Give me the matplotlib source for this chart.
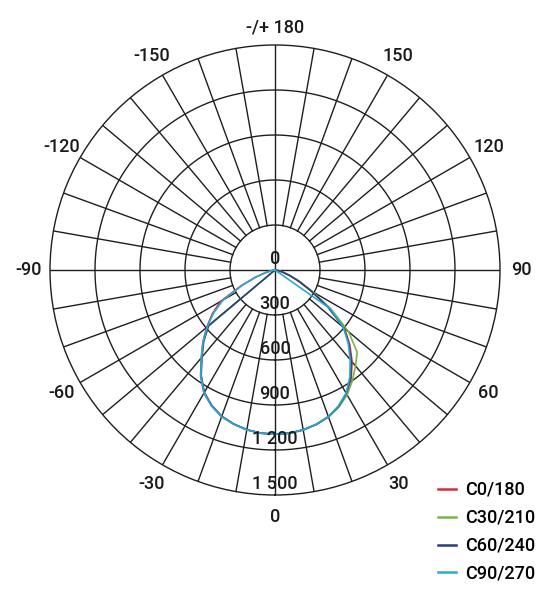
"""Polar luminous intensity diagram (C-planes 0/30/60/90)."""

import numpy as np
import matplotlib
matplotlib.use("Agg")
import matplotlib.pyplot as plt
from matplotlib.lines import Line2D

plt.rcParams["font.family"] = ["Roboto", "DejaVu Sans"]

# gamma angles (deg) and intensities (cd) per half plane
gamma = [0, 5, 10, 15, 20, 25, 30, 35, 40, 45, 50, 55, 60, 65, 70, 75, 80, 85, 90]
c0_r   = [1095, 1092, 1083, 1066, 1042, 1005, 955, 885, 800, 705, 605, 440, 285, 175, 100, 50, 20, 5, 0]
c180_l = [1095, 1092, 1082, 1064, 1040, 1000, 948, 865, 765, 680, 595, 510, 420, 250, 135, 60, 20, 5, 0]
c30_r  = [1095, 1092, 1083, 1066, 1043, 1008, 962, 900, 835, 775, 640, 460, 290, 180, 105, 52, 20, 5, 0]
c210_l = [1095, 1092, 1082, 1063, 1038, 998, 945, 860, 760, 675, 580, 0, 0, 0, 0, 0, 0, 0, 0]
c60_r  = [1095, 1092, 1082, 1065, 1040, 1003, 950, 878, 790, 695, 600, 430, 275, 170, 95, 48, 18, 5, 0]
c240_l = [1095, 1092, 1081, 1063, 1038, 997, 942, 858, 758, 672, 578, 0, 0, 0, 0, 0, 0, 0, 0]
c90_r  = [1095, 1092, 1082, 1064, 1040, 1000, 948, 870, 780, 690, 595, 450, 0, 0, 0, 0, 0, 0, 0]
c270_l = [1095, 1092, 1082, 1064, 1040, 1000, 946, 862, 762, 678, 590, 500, 400, 240, 130, 60, 20, 5, 0]

series = [("C0/180", c0_r, c180_l, "#d32f3a"),
          ("C30/210", c30_r, c210_l, "#7cb547"),
          ("C60/240", c60_r, c240_l, "#2b3f7a"),
          ("C90/270", c90_r, c270_l, "#2aa8d8")]

r_ticks = [0, 300, 600, 900, 1200, 1500]
r_labels = ["0", "300", "600", "900", "1 200", "1 500"]
ang_ticks = [0, 30, 60, 90, 120, 150, -150, -120, -90, -60, -30]
ang_labels = ["0", "30", "60", "90", "120", "150", "-150", "-120", "-90", "-60", "-30"]

RMAX = 1500
GRID = "#1e1e1e"
TXT = "#1a1a1a"
FS = 13

fig = plt.figure(figsize=(5.56, 6.0), dpi=100)
ax = fig.add_axes([50/556, 105/600, 450/556, 450/600], projection="polar")
ax.set_theta_zero_location("S")
ax.set_theta_direction(1)
ax.set_ylim(0, RMAX)
ax.grid(False)
ax.set_xticks([]); ax.set_yticks([])
ax.spines["polar"].set_color(GRID)
ax.spines["polar"].set_linewidth(1.0)

# grid circles
th = np.linspace(0, 2*np.pi, 721)
for r in r_ticks[1:-1]:
    ax.plot(th, np.full_like(th, r), color=GRID, lw=1.0, zorder=1)
# spokes every 10 deg, main axes through centre
for a in range(0, 360, 10):
    r0 = 0 if a % 90 == 0 else 300
    ax.plot([np.radians(a)]*2, [r0, RMAX], color=GRID, lw=1.0, zorder=1)

# curves
g = np.array(gamma)
for name, right, left, col in series:
    thetas = np.radians(np.concatenate([-g[::-1], g[1:]]))
    vals = np.concatenate([np.array(left)[::-1], np.array(right)[1:]])
    ax.plot(thetas, vals, color=col, lw=1.2, zorder=3, solid_joinstyle="round")

# radial labels
for r, lab in zip(r_ticks, r_labels):
    ax.annotate(lab, xy=(0, r), xytext=(0, 1.5), textcoords="offset points",
                ha="center", va="bottom", fontsize=FS, fontweight="medium",
                color=TXT, zorder=4)

# angle labels
for a, lab in zip(ang_ticks, ang_labels):
    ax.text(np.radians(a), 1645, lab, ha="center", va="center",
            fontsize=FS, fontweight="medium", color=TXT)
ax.text(np.pi, 1615, "-/+ 180", ha="center", va="center", fontsize=FS,
        fontweight="medium", color=TXT)

hand = [Line2D([0], [0], color=c, lw=1.8, label=n) for n, _, _, c in series]
fig.legend(handles=hand, loc="upper left", bbox_to_anchor=(438/556, 1 - 481/600),
           frameon=False, fontsize=FS, handlelength=1.0, handletextpad=0.5,
           labelspacing=0.55, borderpad=0, borderaxespad=0,
           prop={"size": FS, "weight": "medium"})

fig.savefig("out.png", dpi=100)
